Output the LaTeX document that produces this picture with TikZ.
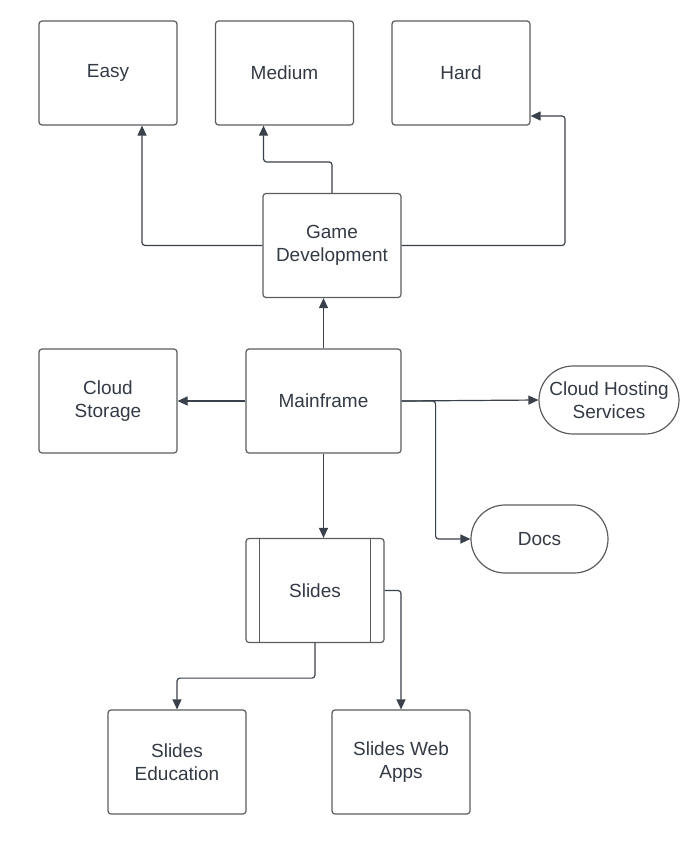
\documentclass[tikz,border=0pt]{standalone}
\usepackage{fontspec}
\setmainfont{Liberation Sans}
\usetikzlibrary{arrows.meta,shapes.misc}
\definecolor{boxline}{RGB}{90,92,96}
\definecolor{conn}{RGB}{58,65,74}
\definecolor{txt}{RGB}{51,58,69}
\tikzset{
  box/.style={draw=boxline, line width=1.2pt, rounded corners=3pt, minimum width=138pt, minimum height=104pt, inner sep=0pt, align=center, text=txt, font=\fontsize{19}{22.7}\selectfont},
  pill/.style={draw=boxline, line width=1.2pt, rounded rectangle, minimum width=138pt, minimum height=68pt, inner sep=0pt, align=center, text=txt, font=\fontsize{19}{22.7}\selectfont},
  arr/.style={draw=conn, line width=1.2pt, rounded corners=3pt, -{Triangle[length=10pt,width=9pt]}},
}
\begin{document}
\begin{tikzpicture}[x=1pt,y=-1pt]
\useasboundingbox (0,0) rectangle (692,862);
\node[box] (easy) at (108,73) {Easy};
\node[box] (med) at (284.5,73) {Medium};
\node[box] (hard) at (461,73) {Hard};
\node[box] (gd) at (332,245.5) {Game\\Development};
\node[box, minimum width=155pt] (mf) at (323.5,401) {Mainframe};
\node[box] (cs) at (108,401) {Cloud\\Storage};
\node[pill, minimum width=140pt] (ch) at (609,400) {Cloud Hosting\\Services};
\node[pill, minimum width=137pt] (docs) at (539.5,539) {Docs};
\node[box] (sl) at (315,590.5) {Slides};
\draw[boxline, line width=1.2pt] ([xshift=14pt]sl.north west) -- ([xshift=14pt]sl.south west);
\draw[boxline, line width=1.2pt] ([xshift=-14pt]sl.north east) -- ([xshift=-14pt]sl.south east);
\node[box] (se) at (177,762) {Slides\\Education};
\node[box] (swa) at (401,762) {Slides Web\\Apps};
\coordinate (hc) at (565,116);
% connectors
\draw[arr] (gd.north) -- ++(0,-31) -| ([xshift=-21pt]med.south);
\draw[arr] (gd.west) -| ([xshift=34pt]easy.south);
\draw[arr] (gd.east) -| (hc) -- (hc -| hard.east);
\draw[arr] (mf.north) -- (mf.north |- gd.south);
\draw[arr] (mf.west) -- (cs.east);
\draw[arr] (mf.east) -- (ch.west);
\draw[arr] (mf.east) -- ++(34,0) |- (docs.west);
\draw[arr] (mf.south) -- (mf.south |- sl.north);
\draw[arr] (sl.south) -- ++(0,35) -| (se.north);
\draw[arr] (sl.east) -| (swa.north);
\end{tikzpicture}
\end{document}
